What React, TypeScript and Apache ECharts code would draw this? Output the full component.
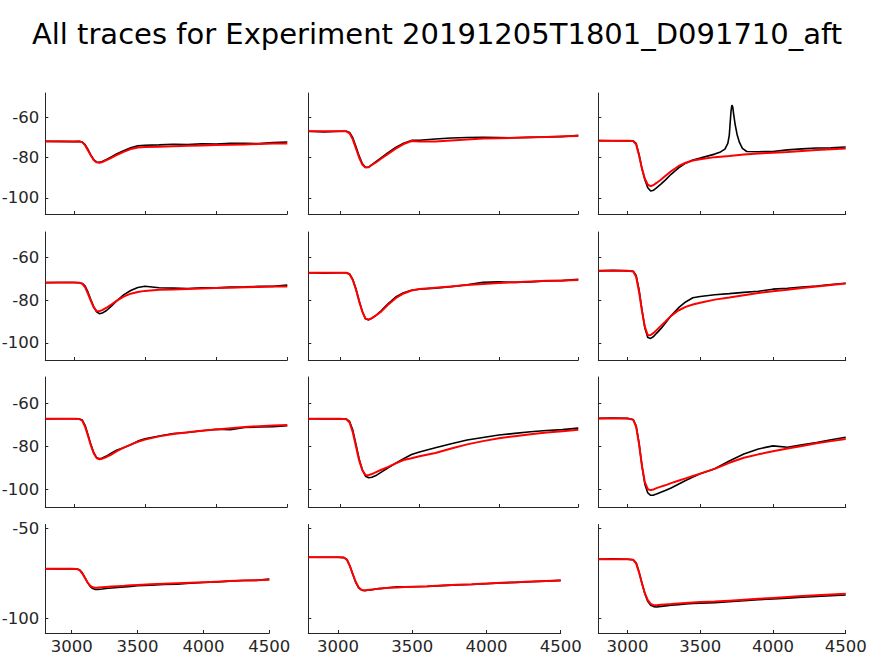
import React, { useEffect, useRef } from "react";
import * as echarts from "echarts";

const TITLE = "All traces for Experiment 20191205T1801_D091710_aft";

// shared sample times (ms)
const T = [2800, 2900, 3000, 3040, 3060, 3080, 3100, 3120, 3140, 3160, 3180, 3200, 3230, 3260, 3300, 3350, 3400, 3450, 3500, 3600, 3700, 3800, 3900, 4000, 4100, 4200, 4300, 4400, 4500];

// time axis for the black trace of panel (1,3) that has a spike
const T_SPIKE = [2800, 2900, 3000, 3040, 3060, 3080, 3100, 3120, 3140, 3160, 3180, 3200, 3230, 3260, 3300, 3350, 3400, 3450, 3500, 3550, 3600, 3640, 3670, 3690, 3700, 3706, 3712, 3718, 3724, 3730, 3740, 3755, 3770, 3790, 3820, 3900, 4000, 4100, 4200, 4300, 4400, 4500];

const X_TICKS = [3000, 3500, 4000, 4500];
const Y_TICKS_TALL = [-100, -80, -60];
const Y_TICKS_SHORT = [-100, -50];

// row 1
const trace11 = [-71.9, -72, -72.1, -72, -72.3, -73.6, -76, -78.8, -81, -82.2, -82.4, -82, -81, -79.8, -78.2, -76.6, -75.2, -74.2, -73.9, -73.7, -73.4, -73.6, -73.2, -73.3, -73, -72.9, -73.1, -72.6, -72.3];
const fit11 = [-72, -72, -72, -72, -72.5, -74, -76.5, -79, -81.2, -82.4, -82.6, -82.2, -81.3, -80.3, -78.8, -77.2, -75.8, -75, -74.8, -74.6, -74.4, -74.2, -74, -73.8, -73.7, -73.5, -73.3, -73.1, -73];
const trace12 = [-67, -67.3, -67, -67, -67.6, -70.2, -74.5, -79.2, -83, -84.8, -84.8, -83.5, -81.8, -80, -77.7, -75, -72.9, -71.5, -71.4, -70.8, -70.3, -70.1, -70, -70.1, -70.2, -70, -69.8, -69.7, -69];
const fit12 = [-67, -67, -67, -67, -68, -71, -75.5, -80, -83.5, -85, -84.8, -83.7, -82.2, -80.5, -78.3, -75.6, -73.3, -71.8, -72.1, -72, -71.5, -71, -70.6, -70.4, -70.2, -70, -69.8, -69.5, -69.3];
const trace13 = [-71.6, -71.7, -71.8, -71.8, -73, -78.5, -85.5, -91, -95, -96.6, -96.2, -95, -93.2, -91.2, -88.3, -85.2, -82.8, -81.2, -80.3, -79.3, -78.3, -77.2, -75.8, -73, -69, -63, -57, -54, -55, -58.5, -63.5, -69, -72.5, -75.5, -77, -77.1, -77, -76.2, -75.7, -75.3, -75.2, -74.8];
const fit13 = [-71.7, -71.7, -71.7, -71.8, -73.5, -79, -85.5, -90.5, -93.5, -94.2, -93.6, -92.6, -91, -89.2, -86.8, -84.3, -82.6, -81.5, -80.8, -79.8, -79.2, -78.5, -78, -77.6, -77.2, -76.7, -76.3, -75.9, -75.5];

// row 2
const trace21 = [-71.8, -71.7, -71.7, -71.8, -72.1, -73.4, -76.2, -79.8, -83, -85.4, -86.3, -86, -84.8, -83, -80.4, -77.5, -75.4, -74, -73.4, -74.1, -74.3, -74.5, -74.1, -74.2, -73.8, -73.7, -73.5, -73.5, -72.9];
const fit21 = [-71.7, -71.7, -71.7, -71.8, -72.3, -74, -77, -80.3, -83.3, -85, -85.1, -84.6, -83.5, -82.2, -80.3, -78.3, -76.9, -76.1, -75.6, -75.1, -74.9, -74.7, -74.5, -74.3, -74.1, -73.9, -73.8, -73.6, -73.5];
const trace22 = [-67.1, -67.3, -67.1, -67.1, -67.7, -70.2, -74.6, -80.2, -85.2, -88.7, -89.2, -88.5, -86.8, -84.8, -81.8, -78.5, -76.5, -75.3, -74.8, -74.3, -73.6, -72.7, -71.6, -71.4, -71.6, -71.4, -71, -70.8, -70.2];
const fit22 = [-67.1, -67.1, -67.1, -67.1, -67.8, -70.5, -75, -80.5, -85.3, -88.6, -89, -88.4, -86.9, -85.2, -82.2, -79, -76.8, -75.4, -74.7, -74.1, -73.5, -72.9, -72.4, -71.9, -71.5, -71.2, -70.9, -70.7, -70.5];
const trace23 = [-66.2, -66, -66.2, -66.4, -68.4, -75, -84.5, -93, -97.5, -97.9, -97, -95.5, -93.3, -90.8, -87.3, -83.6, -80.8, -78.8, -78.2, -77.4, -76.9, -76.3, -75.8, -74.8, -74.4, -73.8, -73.3, -72.6, -72];
const fit23 = [-66.2, -66.2, -66.2, -66.5, -69, -76, -85, -92.5, -96.4, -96.3, -95.3, -94, -92, -90, -87.3, -84.8, -83.1, -82, -81.2, -79.7, -78.7, -77.6, -76.6, -75.8, -75.1, -74.3, -73.6, -72.8, -72.1];

// row 3
const trace31 = [-67.4, -67.3, -67.3, -67.4, -67.9, -70.4, -74.6, -79.1, -82.8, -85.2, -85.7, -85.4, -84.5, -83.3, -81.8, -80.6, -79.3, -77.6, -76.5, -75.2, -74.1, -73.6, -72.8, -72.1, -72.3, -71.3, -71.1, -70.9, -70.5];
const fit31 = [-67.3, -67.3, -67.3, -67.4, -68.2, -71, -75.2, -79.6, -83.2, -85.4, -86, -85.7, -84.9, -83.9, -82.3, -80.6, -79.2, -77.9, -76.9, -75.4, -74.3, -73.5, -72.8, -72.2, -71.6, -71.1, -70.7, -70.4, -70.1];
const trace32 = [-67.3, -67.4, -67.3, -67.4, -68.5, -72.5, -79, -85.8, -90.8, -93.8, -94.5, -94.3, -93.3, -91.9, -90, -87.8, -85.7, -83.8, -82.6, -80.7, -78.8, -77.1, -75.9, -74.8, -74, -73.3, -72.7, -72.3, -71.6];
const fit32 = [-67.3, -67.3, -67.3, -67.5, -69, -73.5, -80, -86.5, -91, -93.2, -93.3, -92.8, -91.8, -90.8, -89.6, -87.9, -86.3, -85.5, -84.6, -83.1, -81, -79.1, -77.6, -76.3, -75.3, -74.4, -73.6, -73, -72.4];
const trace33 = [-67.1, -66.9, -67.1, -67.6, -70.5, -78.5, -89, -97.5, -101.5, -102.6, -102.5, -102, -101.2, -100.4, -99.2, -97.5, -95.8, -94.2, -92.7, -90.3, -86.8, -83.5, -81.2, -79.8, -80.4, -79.3, -78.3, -77, -75.8];
const fit33 = [-67.1, -67.1, -67.1, -67.8, -71, -79, -89, -96.5, -99.8, -100.2, -99.9, -99.3, -98.6, -98, -97, -95.9, -94.8, -93.7, -92.6, -90.4, -87.6, -85.3, -83.7, -82.3, -81, -79.8, -78.6, -77.6, -76.6];

// row 4
const trace41 = [-72.5, -72.6, -72.5, -72.6, -73, -74.6, -77.2, -80, -82.2, -83.4, -83.9, -83.9, -83.7, -83.4, -83.1, -82.8, -82.5, -82.2, -81.9, -81.6, -81.1, -81, -80.5, -80.1, -79.8, -79.3, -79, -78.9, -78.2];
const fit41 = [-72.5, -72.5, -72.5, -72.6, -73.2, -75, -77.5, -80, -81.8, -82.7, -83, -82.9, -82.7, -82.5, -82.3, -82.1, -81.9, -81.6, -81.4, -81.1, -80.8, -80.5, -80.2, -79.9, -79.6, -79.3, -79, -78.8, -78.6];
const trace42 = [-66.1, -66.1, -66.1, -66.3, -67.3, -70.8, -75.6, -80.2, -83.2, -84.3, -84.6, -84.4, -84.1, -83.6, -83.3, -82.8, -82.5, -82.6, -82.4, -82.3, -81.8, -81.4, -81.2, -80.8, -80.3, -80, -79.7, -79.3, -78.9];
const fit42 = [-66.1, -66.1, -66.1, -66.3, -67.5, -71, -75.5, -79.8, -82.8, -84.2, -84.4, -84.2, -83.9, -83.6, -83.3, -83, -82.8, -82.6, -82.4, -82.1, -81.7, -81.3, -81, -80.6, -80.2, -79.9, -79.5, -79.2, -78.9];
const trace43 = [-67.2, -67.0, -67.2, -67.5, -69.2, -74.2, -80.5, -86.3, -90.5, -92.7, -93.4, -93.6, -93.3, -93, -92.6, -92.3, -92, -91.7, -91.5, -91.2, -90.7, -90.2, -89.6, -89.2, -88.7, -88.2, -87.8, -87.4, -87];
const fit43 = [-67.2, -67.2, -67.2, -67.5, -69.5, -74.5, -80.5, -86, -89.8, -91.9, -92.6, -92.6, -92.4, -92.2, -92, -91.7, -91.4, -91.1, -90.9, -90.6, -90.1, -89.6, -89.1, -88.6, -88.1, -87.6, -87.1, -86.7, -86.3];

const PANELS = [
  [trace11, fit11], [trace12, fit12], [trace13, fit13],
  [trace21, fit21], [trace22, fit22], [trace23, fit23],
  [trace31, fit31], [trace32, fit32], [trace33, fit33],
  [trace41, fit41], [trace42, fit42], [trace43, fit43],
];

// grid layout (pixels)
const ROWS = [
  { top: 93, height: 121 },
  { top: 232, height: 128 },
  { top: 377, height: 130 },
  { top: 524.5, height: 108.5 },
];
const COLS = [
  { left: 45.3, width: 242 },
  { left: 308.3, width: 270 },
  { left: 598.3, width: 247.4 },
];
const COLS_LAST = [
  { left: 45.3, width: 224 },
  { left: 308.3, width: 252.4 },
  { left: 598.3, width: 247.4 },
];

const AX = "#262626";
const FONT = "DejaVu Sans";

export default function App() {
  const ref = useRef<HTMLDivElement>(null);
  useEffect(() => {
    document.body.style.margin = "0";
    if (!ref.current) return;
    const chart = echarts.init(ref.current, undefined, { renderer: "svg" });
    const grids: any[] = [];
    const xAxes: any[] = [];
    const yAxes: any[] = [];
    const series: any[] = [];
    PANELS.forEach(([trace, fit], i) => {
      const r = Math.floor(i / 3);
      const c = i % 3;
      const col = r === 3 ? COLS_LAST[c] : COLS[c];
      grids.push({
        left: col.left, top: ROWS[r].top, width: col.width, height: ROWS[r].height,
        containLabel: false, outerBoundsMode: "none",
      });
      xAxes.push({
        type: "value", gridIndex: i, min: 2800, max: 4500,
        axisLine: { show: true, lineStyle: { color: AX, width: 1 } },
        axisTick: { show: true, inside: true, length: 3, customValues: X_TICKS, lineStyle: { color: AX } },
        axisLabel: {
          show: r === 3, customValues: X_TICKS, color: AX, fontSize: 16.5, fontFamily: FONT, margin: 5,
          formatter: (v: number) => String(v),
        },
        splitLine: { show: false },
      });
      const yt = r === 3 ? Y_TICKS_SHORT : Y_TICKS_TALL;
      yAxes.push({
        type: "value", gridIndex: i, min: -108, max: -48,
        axisLine: { show: true, lineStyle: { color: AX, width: 1 } },
        axisTick: { show: true, inside: true, length: 3, customValues: yt, lineStyle: { color: AX } },
        axisLabel: {
          show: c === 0, customValues: yt, color: AX, fontSize: 16.5, fontFamily: FONT, margin: 6,
          formatter: (v: number) => String(v),
        },
        splitLine: { show: false },
      });
      const tt = i === 2 ? T_SPIKE : T;
      series.push({
        type: "line", xAxisIndex: i, yAxisIndex: i, showSymbol: false, symbol: "none",
        data: trace.map((v, k) => [tt[k], v]),
        lineStyle: { color: "#000000", width: 1.6 }, z: 2,
      });
      series.push({
        type: "line", xAxisIndex: i, yAxisIndex: i, showSymbol: false, symbol: "none",
        data: fit.map((v, k) => [T[k], v]),
        lineStyle: { color: "#ff0000", width: 2 }, z: 3,
      });
    });
    chart.setOption({
      animation: false,
      backgroundColor: "#ffffff",
      title: {
        text: TITLE, left: "center", top: 14,
        textStyle: { fontSize: 29, fontWeight: "normal", fontFamily: FONT, color: "#000000" },
      },
      grid: grids, xAxis: xAxes, yAxis: yAxes, series,
    });
    return () => chart.dispose();
  }, []);
  return <div ref={ref} style={{ position: "absolute", left: 0, top: 0, width: 874, height: 656 }} />;
}
